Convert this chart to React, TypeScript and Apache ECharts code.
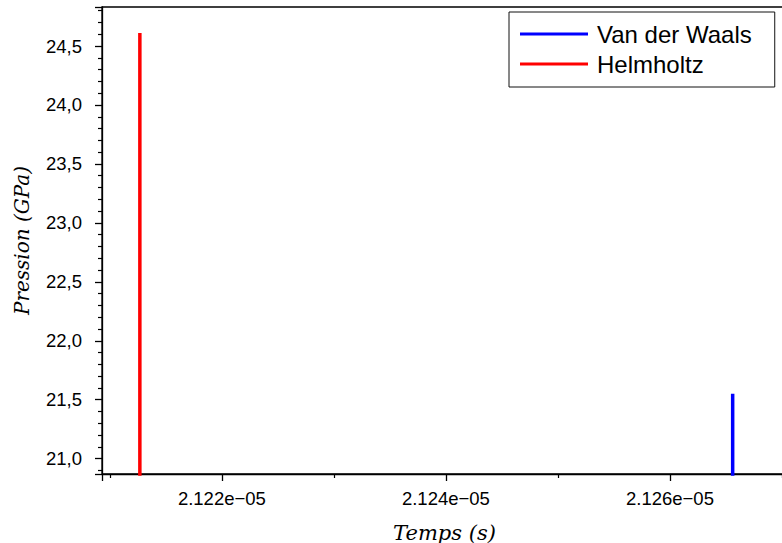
import React, { useEffect, useRef } from "react";
import * as echarts from "echarts";

// Time (s) and pressure (GPa) samples for each model
const vdwTime = [2.12656e-5, 2.12656e-5];
const vdwPressure = [20.5, 21.55];
const helmTime = [2.121268e-5, 2.121268e-5];
const helmPressure = [20.5, 24.61];

const seriesNames = ["Van der Waals", "Helmholtz"];
const xRange = [2.12093e-5, 2.127045e-5];
const yRange = [20.87, 24.831];
const xMajorStep = 2e-8;
const yMajorStep = 0.5;

const pairs = (xs: number[], ys: number[]) => xs.map((x, i) => [x, ys[i]]);

export default function App() {
  const ref = useRef<HTMLDivElement>(null);
  useEffect(() => {
    if (!ref.current) return;
    const chart = echarts.init(ref.current, null, { renderer: "svg" });
    const sans = "Liberation Sans";
    chart.setOption({
      animation: false,
      backgroundColor: "#ffffff",
      grid: {
        left: 102,
        top: 7,
        right: -5,
        bottom: 69,
        outerBoundsMode: "none",
        containLabel: false,
        show: true,
        borderColor: "#000",
        borderWidth: 1.3,
        backgroundColor: "transparent",
      },
      legend: {
        data: seriesNames,
        orient: "vertical",
        left: 509,
        top: 12,
        padding: [7, 23, 8, 11],
        itemGap: 0,
        itemWidth: 68,
        itemHeight: 3,
        icon: "rect",
        borderColor: "#111",
        borderWidth: 1,
        backgroundColor: "#fff",
        textStyle: {
          fontFamily: sans,
          fontSize: 24,
          color: "#000",
          lineHeight: 30,
          padding: [0, 0, 0, 4],
        },
      },
      xAxis: {
        type: "value",
        min: xRange[0],
        max: xRange[1],
        splitNumber: 3,
        name: "Temps (s)",
        nameLocation: "middle",
        nameGap: 48,
        nameTextStyle: {
          fontFamily: "DejaVu Serif",
          fontStyle: "italic",
          fontSize: 21,
          color: "#000",
        },
        axisLine: { onZero: false, lineStyle: { color: "#000", width: 1.3 } },
        axisTick: { show: true, inside: false, length: 7, lineStyle: { color: "#000", width: 1.3 } },
        minorTick: { show: true, splitNumber: 2, length: 4, lineStyle: { color: "#000", width: 1.2 } },
        splitLine: { show: false },
        axisLabel: {
          margin: 15,
          fontFamily: sans,
          fontSize: 18.5,
          color: "#000",
          showMinLabel: true,
          showMaxLabel: true,
          formatter: (v: number) => {
            const k = v / xMajorStep;
            if (Math.abs(k - Math.round(k)) > 1e-4) return "";
            return (v / 1e-5).toFixed(3) + "e\u221205";
          },
        },
      },
      yAxis: {
        type: "value",
        min: yRange[0],
        max: yRange[1],
        splitNumber: 8,
        name: "Pression (GPa)",
        nameLocation: "middle",
        nameGap: 70,
        nameTextStyle: {
          fontFamily: "DejaVu Serif",
          fontStyle: "italic",
          fontSize: 20,
          color: "#000",
        },
        axisLine: { onZero: false, lineStyle: { color: "#000", width: 1.3 } },
        axisTick: { show: true, inside: false, length: 7, lineStyle: { color: "#000", width: 1.3 } },
        minorTick: { show: true, splitNumber: 5, length: 4, lineStyle: { color: "#000", width: 1.2 } },
        splitLine: { show: false },
        axisLabel: {
          margin: 20,
          fontFamily: sans,
          fontSize: 18.5,
          color: "#000",
          formatter: (v: number) => {
            const k = v / yMajorStep;
            if (Math.abs(k - Math.round(k)) > 1e-6) return "";
            return v.toFixed(1).replace(".", ",");
          },
        },
      },
      series: [
        {
          name: seriesNames[0],
          type: "line",
          data: pairs(vdwTime, vdwPressure),
          symbol: "none",
          color: "#0000ff",
          lineStyle: { color: "#0000ff", width: 3.5 },
          clip: true,
        },
        {
          name: seriesNames[1],
          type: "line",
          data: pairs(helmTime, helmPressure),
          symbol: "none",
          color: "#ff0000",
          lineStyle: { color: "#ff0000", width: 3.5 },
          clip: true,
        },
      ],
    });
    return () => chart.dispose();
  }, []);
  return (
    <div
      ref={ref}
      style={{ position: "fixed", left: 0, top: 0, width: 782, height: 543, background: "#fff" }}
    />
  );
}
